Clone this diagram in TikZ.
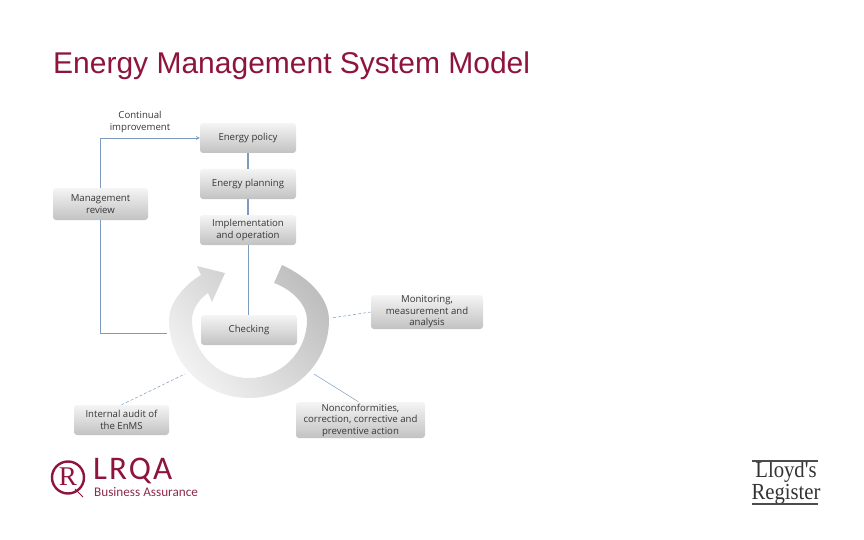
\documentclass[tikz,border=0pt]{standalone}
\usepackage{fontspec}
\setmainfont{Liberation Sans}
\newfontfamily\boxfont{Open Sans}
\newfontfamily\logofont{Carlito}
\newfontfamily\lrfont{Liberation Serif}
\definecolor{lrqared}{RGB}{142,20,62}
\definecolor{linkblue}{RGB}{125,155,190}
\definecolor{boxtext}{RGB}{55,55,55}
\tikzset{
	stage/.style={rounded corners=3pt, top color=gray!8, bottom color=gray!48, text=boxtext, align=center, inner sep=0pt, font=\boxfont\fontsize{9.6}{11.5}\selectfont},
	link/.style={linkblue, line width=0.7pt},
	note/.style={link, line width=0.5pt, densely dashed}
}
\begin{document}
\begin{tikzpicture}[x=1pt,y=-1pt]
	\useasboundingbox (0,0) rectangle (864,540);
	\node[anchor=west, inner sep=0pt, lrqared, font=\fontsize{30}{33}\selectfont] (title) at (53,66) {Energy Management System Model};

	\shade[left color=gray!10, right color=gray!50, shading angle=130]
		(282,265) .. controls (312,279) and (329,300) .. (329,320)
		.. controls (329,364) and (293,398) .. (249,398)
		.. controls (205,398) and (169,364) .. (169,320)
		.. controls (169,303) and (184,285) .. (201,275)
		-- (197,266) -- (225,273) -- (212,302) -- (208,293)
		.. controls (198,300) and (192,310) .. (192,320)
		.. controls (192,352) and (217,378) .. (249,378)
		.. controls (281,378) and (307,352) .. (307,320)
		.. controls (307,305) and (293,290) .. (274,283) -- cycle;

	\node[stage, minimum width=96pt, minimum height=30pt] (policy) at (248,138) {Energy policy};
	\node[stage, minimum width=96pt, minimum height=30pt] (planning) at (248,184) {Energy planning};
	\node[stage, minimum width=96pt, minimum height=30pt] (operation) at (248,230) {Implementation\\and operation};
	\node[stage, minimum width=95pt, minimum height=32pt] (review) at (100.5,204) {Management\\review};
	\node[stage, minimum width=96pt, minimum height=30pt] (checking) at (249,330) {Checking};
	\node[stage, minimum width=112pt, minimum height=34pt] (monitoring) at (427,312) {Monitoring,\\measurement and\\analysis};
	\node[stage, minimum width=129pt, minimum height=36pt] (nonconf) at (360.5,420) {Nonconformities,\\correction, corrective and\\preventive action};
	\node[stage, minimum width=95pt, minimum height=30pt] (audit) at (121.5,420) {Internal audit of\\the EnMS};
	\node[align=center, inner sep=0pt, text=boxtext, font=\boxfont\fontsize{9.6}{11.5}\selectfont] (continual) at (140,122) {Continual\\improvement};

	\coordinate (ringleft) at (167,333);
	\coordinate (ringright) at (331,318);
	\coordinate (ringlow) at (314,374);
	\coordinate (ringaudit) at (185,374);

	\draw[link, line width=1.1pt] (policy) -- (planning);
	\draw[link, line width=1.1pt] (planning) -- (operation);
	\draw[link] (operation.south) -- (operation.south |- checking.north);
	\draw[link, ->, >=stealth] (review.north) |- (policy.west);
	\draw[link] (review.south) |- (ringleft);
	\draw[note] (monitoring.west) -- (ringright);
	\draw[link, line width=0.5pt] (nonconf.north) ++(-2,0) coordinate (nonconftop) -- (ringlow);
	\draw[note] (audit.north) -- (ringaudit);

	\draw[lrqared, line width=2.4pt] (68,477.5) circle (16);
	\node[lrqared, inner sep=0pt, font=\lrfont\fontsize{27}{27}\selectfont] (seal) at (68,477) {R};
	\draw[lrqared, line width=1pt] (75,489) -- (83,497);
	\node[anchor=west, inner sep=0pt, lrqared, font=\logofont\fontsize{33}{33}\selectfont] (lrqa) at (93,471) {L\kern2pt R\kern2pt Q\kern2pt A};
	\node[anchor=west, inner sep=0pt, lrqared!80!gray, font=\logofont\fontsize{13.2}{14}\selectfont] (assurance) at (94,492) {Business Assurance};

	\node[inner sep=0pt, align=center, text=black!80, xscale=0.9, font=\lrfont\fontsize{23}{15.5}\selectfont] (lloyds) at (786,483) {Lloyd's\\Register};
	\draw[black!70, line width=1.2pt] (752,461) -- (818,461);
	\draw[black!70, line width=1.2pt] (752,504) -- (818,504);
\end{tikzpicture}
\end{document}
